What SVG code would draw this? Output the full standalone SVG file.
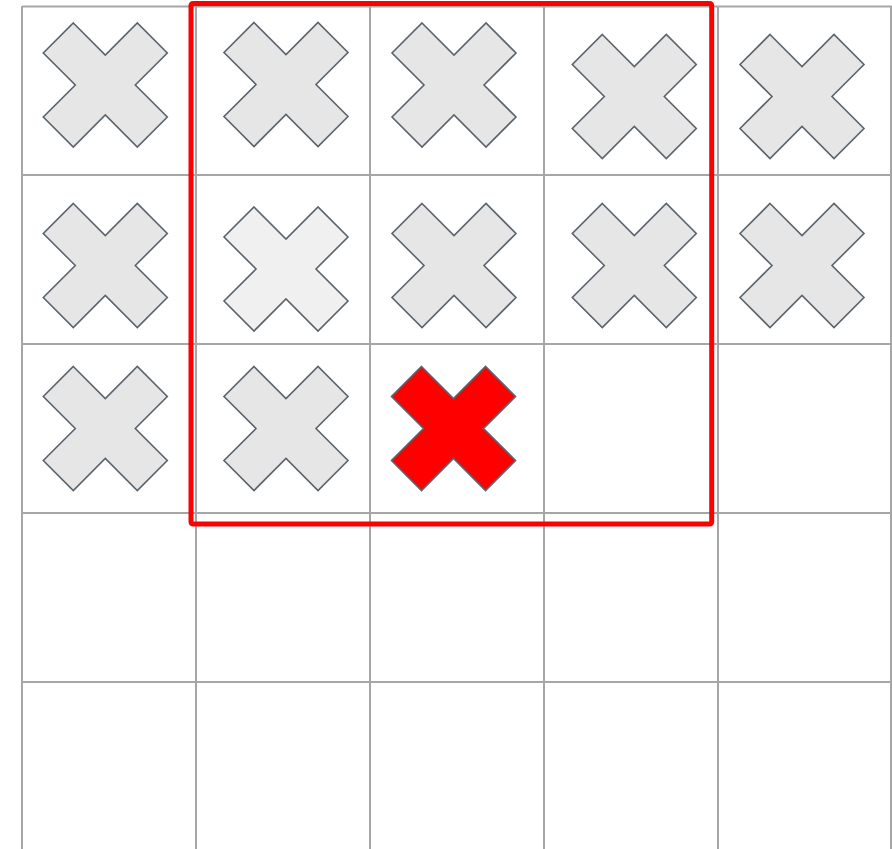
<svg xmlns="http://www.w3.org/2000/svg" width="892" height="849" viewBox="0 0 892 849">
<defs>
<style>
.grid line{stroke:#a6a6a6;stroke-width:2}
.x{stroke:#5b636d;stroke-width:1.6;stroke-linejoin:miter}
.n{fill:#e6e6e6}
.l{fill:#f0f0f0}
.r{fill:#ff0000}
</style>
<path id="cross" d="M-32,-62 L0,-30 L32,-62 L62,-32 L30,0 L62,32 L32,62 L0,30 L-32,62 L-62,32 L-30,0 L-62,-32 Z"/>
</defs>
<rect width="892" height="849" fill="#ffffff"/>
<g class="grid" id="grid">
<line x1="22" y1="6.5" x2="892" y2="6.5"/>
<line x1="22" y1="175" x2="892" y2="175"/>
<line x1="22" y1="344" x2="892" y2="344"/>
<line x1="22" y1="513" x2="892" y2="513"/>
<line x1="22" y1="682" x2="892" y2="682"/>
<line x1="22" y1="6" x2="22" y2="849"/>
<line x1="196" y1="6" x2="196" y2="849"/>
<line x1="370" y1="6" x2="370" y2="849"/>
<line x1="544" y1="6" x2="544" y2="849"/>
<line x1="718" y1="6" x2="718" y2="849"/>
<line x1="891" y1="6" x2="891" y2="849"/>
</g>
<g id="c11" class="x n"><use href="#cross" x="105.3" y="85"/></g>
<g id="c12" class="x n"><use href="#cross" x="286" y="84.5"/></g>
<g id="c13" class="x n"><use href="#cross" x="454" y="85"/></g>
<g id="c14" class="x n"><use href="#cross" x="634.3" y="96.5"/></g>
<g id="c15" class="x n"><use href="#cross" x="802" y="96.5"/></g>
<g id="c21" class="x n"><use href="#cross" x="105.3" y="265.5"/></g>
<g id="c22" class="x l"><use href="#cross" x="286" y="269"/></g>
<g id="c23" class="x n"><use href="#cross" x="454" y="265.5"/></g>
<g id="c24" class="x n"><use href="#cross" x="634.3" y="265.5"/></g>
<g id="c25" class="x n"><use href="#cross" x="802" y="265.5"/></g>
<g id="c31" class="x n"><use href="#cross" x="105.3" y="428.5"/></g>
<g id="c32" class="x n"><use href="#cross" x="286" y="428.5"/></g>
<g id="c33" class="x r"><use href="#cross" x="453.5" y="428.5"/></g>
<g id="selection"><rect x="191" y="3.5" width="520.7" height="520.5" rx="2" fill="none" stroke="#ff0000" stroke-width="5"/></g>
</svg>
